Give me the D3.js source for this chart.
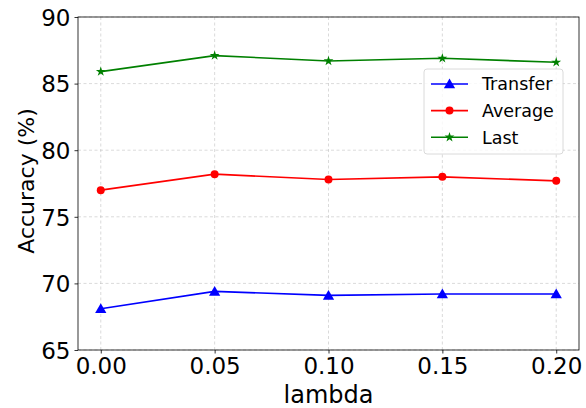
<!DOCTYPE html>
<html>
<head>
<meta charset="utf-8">
<script src="https://cdn.jsdelivr.net/npm/d3@7"></script>
<style>
  body { margin: 0; background: #fff; }
  svg { display: block; font-family: "DejaVu Sans", sans-serif; }
</style>
</head>
<body>
<svg id="chart" width="586" height="408"></svg>
<script>
const lambdas = [0.00, 0.05, 0.10, 0.15, 0.20];
const transfer = [68.1, 69.4, 69.1, 69.2, 69.2];
const average = [77.0, 78.2, 77.8, 78.0, 77.7];
const last = [85.9, 87.1, 86.7, 86.9, 86.6];
const xTicks = [0.00, 0.05, 0.10, 0.15, 0.20];
const yTicks = [65, 70, 75, 80, 85, 90];

const series = [
  { name: 'Transfer', values: transfer, color: '#0000ff', marker: 'triangle' },
  { name: 'Average', values: average, color: '#ff0000', marker: 'circle' },
  { name: 'Last', values: last, color: '#008000', marker: 'star' },
];

const margin = { top: 17, right: 7, bottom: 58, left: 78 };
const width = 586 - margin.left - margin.right;
const height = 408 - margin.top - margin.bottom;

const svg = d3.select('#chart');
const g = svg.append('g').attr('transform', `translate(${margin.left},${margin.top})`);

const x = d3.scaleLinear().domain([-0.01, 0.21]).range([0, width]);
const y = d3.scaleLinear().domain([65, 90]).range([height, 0]);

// grid
g.append('g').selectAll('line').data(xTicks).enter().append('line')
  .attr('x1', d => x(d)).attr('x2', d => x(d))
  .attr('y1', 0).attr('y2', height)
  .attr('stroke', '#b0b0b0').attr('stroke-opacity', 0.6)
  .attr('stroke-width', 0.8).attr('stroke-dasharray', '3,2.5');
g.append('g').selectAll('line').data(yTicks).enter().append('line')
  .attr('x1', 0).attr('x2', width)
  .attr('y1', d => y(d)).attr('y2', d => y(d))
  .attr('stroke', '#b0b0b0').attr('stroke-opacity', 0.6)
  .attr('stroke-width', 0.8).attr('stroke-dasharray', '3,2.5');

const symbolFor = m => {
  if (m === 'triangle') return d3.symbol().type(d3.symbolTriangle).size(55)();
  if (m === 'circle') return d3.symbol().type(d3.symbolCircle).size(50)();
  return d3.symbol().type(d3.symbolStar).size(30)();
};

const line = d3.line().x(d => x(d[0])).y(d => y(d[1]));

series.forEach(s => {
  const pts = lambdas.map((l, i) => [l, s.values[i]]);
  g.append('path').datum(pts)
    .attr('fill', 'none').attr('stroke', s.color).attr('stroke-width', 1.6)
    .attr('d', line);
  g.append('g').selectAll('path').data(pts).enter().append('path')
    .attr('d', symbolFor(s.marker))
    .attr('transform', d => `translate(${x(d[0])},${y(d[1]) + (s.marker === 'triangle' ? 1 : 0)})`)
    .attr('fill', s.color);
});

// axes
const xAxis = d3.axisBottom(x).tickValues(xTicks).tickFormat(d3.format('.2f')).tickSize(3.5).tickPadding(4);
const yAxis = d3.axisLeft(y).tickValues(yTicks).tickFormat(d3.format('d')).tickSize(3.5).tickPadding(4);

const xg = g.append('g').attr('transform', `translate(0,${height})`).call(xAxis);
const yg = g.append('g').call(yAxis);
[xg, yg].forEach(a => {
  a.select('.domain').remove();
  a.selectAll('text').attr('font-size', 23).attr('fill', '#000').attr('font-family', 'DejaVu Sans');
  a.selectAll('line').attr('stroke', '#000').attr('stroke-width', 0.8);
});
yg.selectAll('text').attr('dy', '0.36em');

g.append('rect').attr('width', width).attr('height', height)
  .attr('fill', 'none').attr('stroke', '#000').attr('stroke-width', 0.8);

svg.append('text')
  .attr('x', margin.left + width / 2).attr('y', 403)
  .attr('text-anchor', 'middle').attr('font-size', 24).text('lambda');

svg.append('text')
  .attr('transform', `translate(34,181) rotate(-90)`)
  .attr('text-anchor', 'middle').attr('font-size', 22).text('Accuracy (%)');

// legend
const legend = svg.append('g').attr('transform', 'translate(424,69)');
legend.append('rect').attr('width', 139).attr('height', 85).attr('rx', 3)
  .attr('fill', '#fff').attr('fill-opacity', 0.8)
  .attr('stroke', '#d0d0d0').attr('stroke-width', 0.8);
series.forEach((s, i) => {
  const row = legend.append('g').attr('transform', `translate(0,${15 + i * 26.6})`);
  row.append('line').attr('x1', 7).attr('x2', 44).attr('y1', 0).attr('y2', 0)
    .attr('stroke', s.color).attr('stroke-width', 1.6);
  row.append('path').attr('d', symbolFor(s.marker))
    .attr('transform', `translate(25.5,${s.marker === 'triangle' ? 1 : 0})`).attr('fill', s.color);
  row.append('text').attr('x', 58).attr('y', 0).attr('dy', '0.36em')
    .attr('font-size', 17.5).text(s.name);
});
</script>
</body>
</html>
